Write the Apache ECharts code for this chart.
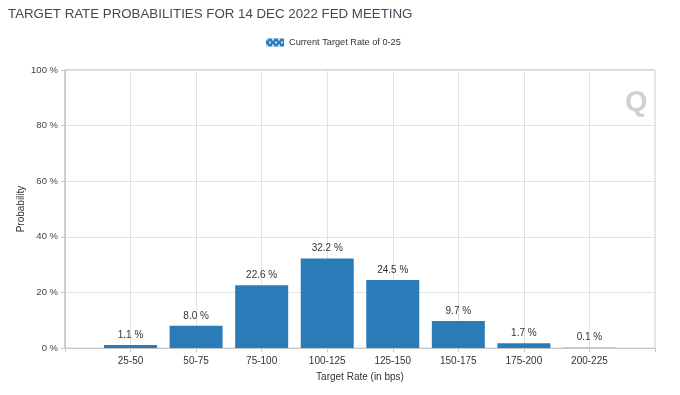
<!DOCTYPE html>
<html>
<head>
<meta charset="utf-8">
<script src="https://cdn.jsdelivr.net/npm/echarts@6/dist/echarts.min.js"></script>
<style>
html,body{margin:0;padding:0;background:#fff;}
#c{width:680px;height:395px;}
</style>
</head>
<body>
<div id="c"></div>
<script>
const categories = ['25-50','50-75','75-100','100-125','125-150','150-175','175-200','200-225'];
const probabilities = [1.1, 8.0, 22.6, 32.2, 24.5, 9.7, 1.7, 0.1];
const yTicks = [0, 20, 40, 60, 80, 100];
const seriesName = 'Current Target Rate of 0-25';
const titleText = 'TARGET RATE PROBABILITIES FOR 14 DEC 2022 FED MEETING';

const chart = echarts.init(document.getElementById('c'), null, {renderer:'canvas'});

const pc = document.createElement('canvas');
pc.width = 6; pc.height = 6;
const px = pc.getContext('2d');
px.fillStyle = '#2b7bb9'; px.fillRect(0,0,6,6);
px.fillStyle = '#cfe3f2';
px.fillRect(0,0,2,2); px.fillRect(3,3,2,2);

const barData = probabilities.map((v,i)=>[i, v]);

chart.setOption({
  animation:false,
  backgroundColor:'#fff',
  textStyle:{fontFamily:'Arial, "Liberation Sans", sans-serif'},
  title:{
    text:titleText, left:3, top:3,
    textStyle:{fontSize:13.3, fontWeight:'normal', color:'#3f4a57', fontFamily:'Arial, "Liberation Sans", sans-serif'}
  },
  legend:{
    top:33, left:261, itemWidth:18, itemHeight:8, itemGap:4,
    data:[{name:seriesName, icon:'rect', itemStyle:{color:{image:pc, repeat:'repeat'}}}],
    textStyle:{fontSize:9.2, color:'#333'}
  },
  graphic:[{
    type:'text', left:625, top:88,
    style:{text:'Q', fontSize:29, fontWeight:'bold', fill:'#cdd1d4', fontFamily:'Arial, "Liberation Sans", sans-serif'}
  },{
    type:'rect', shape:{x:64.5, y:69.5, width:590.5, height:278.5},
    style:{fill:'none', stroke:'#d4d4d4', lineWidth:1}, z:-1
  }],
  grid:{left:65, right:25, top:70, bottom:47, containLabel:false},
  xAxis:{
    type:'value', min:-1, max:categories.length, interval:1,
    name:'Target Rate (in bps)', nameLocation:'middle', nameGap:24,
    nameMoveOverlap:false,
    nameTextStyle:{fontSize:10, color:'#333'},
    axisLine:{show:true, onZero:false, lineStyle:{color:'#c8c8c8'}},
    axisTick:{show:true, length:4, lineStyle:{color:'#c8c8c8'}},
    axisLabel:{fontSize:10, color:'#333', margin:8,
      formatter:v=> (v>=0 && v<categories.length) ? categories[v] : ''},
    splitLine:{show:true, lineStyle:{color:'#e2e2e2'}}
  },
  yAxis:{
    type:'value', min:yTicks[0], max:yTicks[yTicks.length-1], interval:20,
    name:'Probability', nameLocation:'middle', nameGap:39,
    nameMoveOverlap:false,
    nameTextStyle:{fontSize:10, color:'#333'},
    axisLine:{show:true, onZero:false, lineStyle:{color:'#c8c8c8'}},
    axisTick:{show:true, length:4, lineStyle:{color:'#c8c8c8'}},
    axisLabel:{fontSize:9.5, color:'#444', formatter:'{value} %', margin:7},
    splitLine:{show:true, lineStyle:{color:'#e2e2e2'}}
  },
  series:[{
    name:seriesName, type:'bar', data:barData, barWidth:53,
    itemStyle:{color:'#2b7bb9'},
    label:{show:true, position:'top', distance:5, fontSize:10, color:'#333',
      formatter:p=>p.value[1].toFixed(1)+' %'}
  }]
});
</script>
</body>
</html>
